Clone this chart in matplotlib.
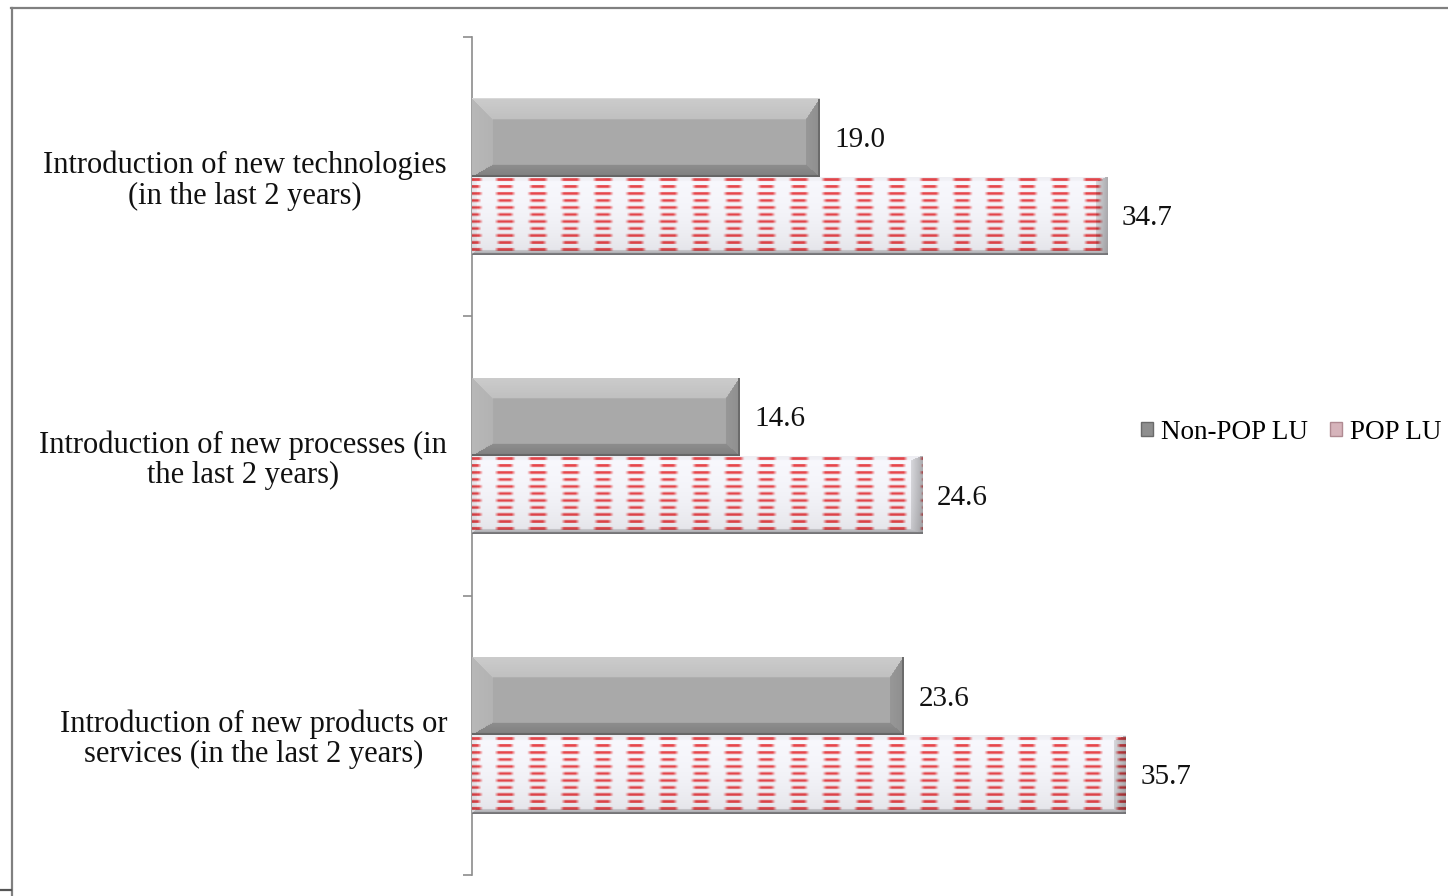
import numpy as np
import matplotlib
matplotlib.use("Agg")
import matplotlib.pyplot as plt
from matplotlib.lines import Line2D
from matplotlib.patches import Patch

# ---- data -------------------------------------------------------------
categories = [
    "Introduction of new technologies\n(in the last 2 years)",
    "Introduction of new processes (in\nthe last 2 years)",
    "Introduction of new products or\nservices (in the last 2 years)",
]
non_pop_lu = [19.0, 14.6, 23.6]
pop_lu = [34.7, 24.6, 35.7]
series_names = ["Non-POP LU", "POP LU"]

# ---- figure -----------------------------------------------------------
W, H, DPI = 1448, 896, 100
plt.rcParams["font.family"] = ["Liberation Serif", "DejaVu Serif"]
FS_CAT = 22
FS_VAL = 21
FS_LEG = 19.5

fig = plt.figure(figsize=(W / DPI, H / DPI), dpi=DPI)
fig.patch.set_facecolor("white")

AX_L, AX_R, AX_T, AX_B = 472, 1200, 37, 875
ax = fig.add_axes([AX_L / W, (H - AX_B) / H, (AX_R - AX_L) / W, (AX_B - AX_T) / H])
px_per_unit = 18.3
ax.set_xlim(0, (AX_R - AX_L) / px_per_unit)
ax.set_ylim(2.5, -0.5)
ax.set_autoscale_on(False)

bar_h = 0.28
y = np.arange(len(categories))
bars_a = ax.barh(y - bar_h / 2, non_pop_lu, height=bar_h, color="none", edgecolor="none")
bars_b = ax.barh(y + bar_h / 2, pop_lu, height=bar_h, color="none", edgecolor="none")

px_per_cat = (AX_B - AX_T) / 3.0


def bevel_shade(h, w, base, edges, widths, soften=0.35):
    """Return a bevelled shading map (top, bottom, left, right edges)."""
    yy, xx = np.mgrid[0:h, 0:w].astype(float)
    wt, wb, wl, wr = widths
    d = np.stack([yy / wt, (h - 1 - yy) / wb, xx / wl, (w - 1 - xx) / wr])
    which = d.argmin(axis=0)
    m = d.min(axis=0)
    vals = np.array(edges)[which]
    t = np.clip(m, 0, 1)
    shade = np.where(m < 1, vals + (base - vals) * t * soften, base)
    return shade


def gray_texture(h, w):
    s = bevel_shade(h, w, 0.665, (0.80, 0.50, 0.72, 0.56), (21, 12, 21, 14))
    s[-2:, :] = 0.40
    s[:, -2:] = np.minimum(s[:, -2:], 0.42)
    s[0, :] = np.maximum(s[0, :], 0.85)
    img = np.dstack([s, s, s])
    return np.clip(img, 0, 1)


def dash_texture(h, w):
    yy, xx = np.mgrid[0:h, 0:w].astype(float)
    py, px = 6.9, 32.6
    row = np.floor((yy - 0.5) / py)
    dy = (yy - 3.0) - py * np.round((yy - 3.0) / py)
    v = np.clip(1.9 - np.abs(dy), 0, 1) ** 1.3
    dx = xx - px * np.round(xx / px)
    half = np.where(row % 2 == 0, 10.5, 9.0)
    u = np.clip((half - np.abs(dx)) / 4.0, 0, 1)
    a = (u * v) * 0.9
    red = np.array([0.90, 0.20, 0.22])
    base = np.ones((h, w, 3)) * np.array([0.97, 0.97, 0.99])
    img = base * (1 - a[..., None]) + red * a[..., None]
    # soft vertical fade toward the bottom
    fade = 1.0 - 0.08 * (yy / (h - 1)) ** 2
    s = bevel_shade(h, w, 1.0, (0.96, 0.72, 0.93, 0.70), (5, 5, 5, 12), soften=0.6)
    img = img * (s * fade)[..., None]
    img[-2:, :, :] *= 0.72
    return np.clip(img, 0, 1)


def paint(bars, maker):
    for p in bars:
        x0, yb, bw, bh = p.get_x(), p.get_y(), p.get_width(), p.get_height()
        wpx = max(int(round(bw * px_per_unit)), 2)
        hpx = max(int(round(bh * px_per_cat)), 2)
        im = ax.imshow(maker(hpx, wpx), extent=(x0, x0 + bw, yb + bh, yb),
                       aspect="auto", origin="upper", interpolation="bilinear", zorder=3)
        im.set_clip_path(p)


paint(bars_a, gray_texture)
paint(bars_b, dash_texture)
ax.set_xlim(0, (AX_R - AX_L) / px_per_unit)
ax.set_ylim(2.5, -0.5)

# value labels
off = 15 * 72 / DPI
dy_off = -2.5 * 72 / DPI
for bars, vals in ((bars_a, non_pop_lu), (bars_b, pop_lu)):
    for p, v in zip(bars, vals):
        ax.annotate(f"{v:.1f}", xy=(v, p.get_y() + p.get_height() / 2), xytext=(off, dy_off),
                    textcoords="offset points", ha="left", va="center",
                    fontsize=FS_VAL, color="#111111")

# axes styling
for side in ("top", "right", "bottom"):
    ax.spines[side].set_visible(False)
ax.spines["left"].set_color("#8c8c8c")
ax.spines["left"].set_linewidth(1.2)
ax.set_xticks([])
ax.set_yticks([-0.5, 0.5, 1.5, 2.5])
ax.set_yticklabels([])
ax.tick_params(axis="y", which="major", length=6.5, width=1.2, color="#8c8c8c", direction="out")
ax.set_yticks(y, minor=True)
ax.set_yticklabels(categories, minor=True, fontsize=FS_CAT, color="#111111")
for lbl in ax.get_yticklabels(minor=True):
    lbl.set_multialignment("center")
    lbl.set_linespacing(1.05)
ax.tick_params(axis="y", which="minor", length=0, pad=25 * 72 / DPI)

# legend
handles = [Patch(facecolor="#8e8e8e", edgecolor="#6a6a6a", linewidth=1.0),
           Patch(facecolor="#d6b4bb", edgecolor="#b08a92", linewidth=1.0)]
fig.legend(handles, series_names, loc="center left", bbox_to_anchor=(1141 / W, 1 - 432 / H),
           ncol=2, frameon=False, handlelength=0.45, handleheight=0.45, handletextpad=0.3,
           columnspacing=0.8, borderpad=0, borderaxespad=0, fontsize=FS_LEG)

# outer frame
fig.add_artist(Line2D([11.5 / W, 11.5 / W], [0, 1 - 8 / H], transform=fig.transFigure,
                      color="#808080", lw=1.6))
fig.add_artist(Line2D([11 / W, 1], [1 - 8.5 / H, 1 - 8.5 / H], transform=fig.transFigure,
                      color="#808080", lw=1.6))
fig.add_artist(Line2D([0, 11 / W], [1 - 890 / H, 1 - 890 / H], transform=fig.transFigure,
                      color="#555555", lw=1.6))

fig.savefig("out.png", dpi=DPI)
